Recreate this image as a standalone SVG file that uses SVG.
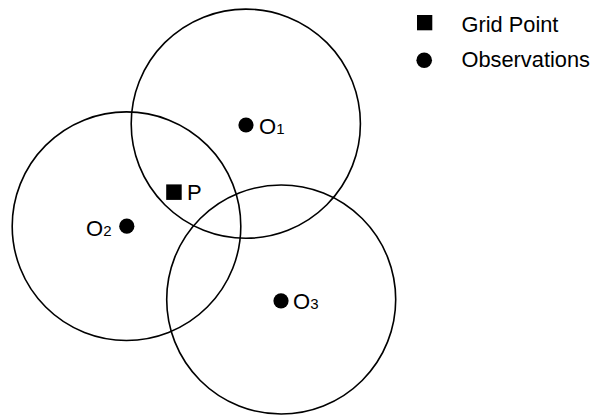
<svg xmlns="http://www.w3.org/2000/svg" width="593" height="416" viewBox="0 0 593 416">
<style>
.c{fill:none;stroke:#000;stroke-width:1.6}
.t{font-family:"Liberation Sans",Arial,sans-serif;font-size:22px;fill:#000}
.s{font-size:15px}
.lg{font-family:"Liberation Sans",Arial,sans-serif;font-size:21.8px;fill:#000}
</style>
<rect width="593" height="416" fill="#fff"/>
<g id="circles">
<circle class="c" cx="245.8" cy="123.7" r="114.6"/>
<circle class="c" cx="126.5" cy="226.2" r="114.3"/>
<circle class="c" cx="281.2" cy="299.5" r="114.5"/>
</g>
<g id="O1">
<circle cx="246" cy="125" r="7.6"/>
<text class="t" x="259" y="134">O<tspan class="s">1</tspan></text>
</g>
<g id="O2">
<circle cx="126.8" cy="226.2" r="7.6"/>
<text class="t" x="86" y="236">O<tspan class="s">2</tspan></text>
</g>
<g id="O3">
<circle cx="281" cy="300.8" r="7.6"/>
<text class="t" x="293" y="308.5">O<tspan class="s">3</tspan></text>
</g>
<g id="P">
<rect x="166.2" y="184.4" width="15.5" height="15.5"/>
<text class="t" x="187" y="200">P</text>
</g>
<g id="legend">
<rect x="417" y="15" width="15.3" height="15.3"/>
<text class="lg" x="461.5" y="31.5">Grid Point</text>
<circle cx="424.2" cy="60.2" r="7.8"/>
<text class="lg" x="461.5" y="67.3">Observations</text>
</g>
</svg>
